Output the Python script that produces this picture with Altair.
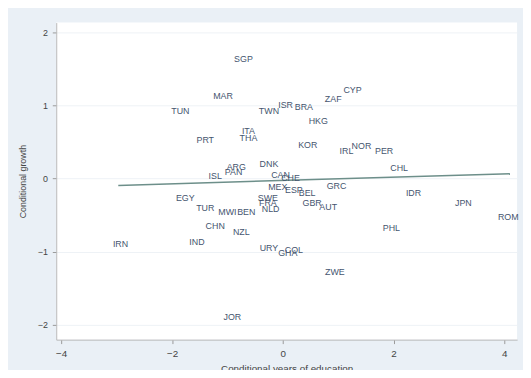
import altair as alt
import pandas as pd

codes = ["SGP", "MAR", "TUN", "TWN", "ISR", "BRA", "ZAF", "CYP", "HKG", "KOR",
         "IRL", "NOR", "PER", "CHL", "PRT", "ITA", "THA", "ARG", "PAN", "DNK",
         "ISL", "CAN", "CHE", "MEX", "ESP", "BEL", "GRC", "GBR", "AUT", "SWE",
         "FRA", "NLD", "IDR", "JPN", "ROM", "PHL", "EGY", "TUR", "MWI", "BEN",
         "CHN", "NZL", "IRN", "IND", "URY", "GHA", "COL", "ZWE", "JOR"]
edu = [-0.71, -1.08, -1.85, -0.25, 0.05, 0.38, 0.91, 1.26, 0.64, 0.45,
       1.15, 1.42, 1.83, 2.10, -1.40, -0.62, -0.62, -0.84, -0.89, -0.25,
       -1.22, -0.04, 0.14, -0.09, 0.20, 0.44, 0.97, 0.53, 0.82, -0.27,
       -0.27, -0.22, 2.36, 3.26, 4.07, 1.96, -1.76, -1.40, -1.00, -0.66,
       -1.22, -0.75, -2.93, -1.55, -0.25, 0.09, 0.20, 0.94, -0.91]
growth = [1.63, 1.13, 0.92, 0.92, 1.01, 0.97, 1.09, 1.21, 0.79, 0.46,
          0.37, 0.45, 0.37, 0.15, 0.53, 0.65, 0.55, 0.16, 0.09, 0.20,
          0.04, 0.05, 0.01, -0.12, -0.16, -0.20, -0.10, -0.33, -0.39, -0.27,
          -0.34, -0.42, -0.20, -0.34, -0.53, -0.67, -0.26, -0.40, -0.46, -0.46,
          -0.65, -0.73, -0.89, -0.87, -0.95, -1.02, -0.98, -1.28, -1.89]

fit_x = [-2.97, 4.10]
fit_y = [-0.094, 0.067]

x_ticks = [-4, -2, 0, 2, 4]
y_ticks = [-2, -1, 0, 1, 2]

pts = pd.DataFrame({"code": codes, "edu": edu, "growth": growth})
fit = pd.DataFrame({"edu": fit_x, "growth": fit_y})

xs = alt.Scale(domain=[-4.09, 4.23], nice=False, zero=False)
ys = alt.Scale(domain=[-2.2, 2.13], nice=False, zero=False)

xaxis = alt.Axis(values=x_ticks, format="d", title="Conditional years of education",
                 grid=False, labelFontSize=10, titleFontSize=10, labelPadding=5,
                 titlePadding=5, tickSize=4, labelColor="#444444", titleColor="#444444",
                 titleFontWeight="normal", domainColor="#b8b8b8", tickColor="#999999")
yaxis = alt.Axis(values=y_ticks, format="d", title="Conditional growth", grid=True,
                 gridColor="#eef2f6", labelAngle=0, labelFontSize=9,
                 titleFontSize=9, labelPadding=5, titlePadding=10, tickSize=4,
                 labelColor="#444444", titleColor="#444444",
                 titleFontWeight="normal", domainColor="#b8b8b8", tickColor="#999999")

labels = alt.Chart(pts).mark_text(fontSize=9, font="Liberation Sans",
                                  color="#44546e").encode(
    x=alt.X("edu:Q", scale=xs, axis=xaxis),
    y=alt.Y("growth:Q", scale=ys, axis=yaxis),
    text="code:N",
)

line = alt.Chart(fit).mark_line(color="#6d8f8a", strokeWidth=1.5).encode(
    x=alt.X("edu:Q", scale=xs),
    y=alt.Y("growth:Q", scale=ys),
)

chart = alt.layer(line, labels).properties(
    width=468, height=322,
    autosize=alt.AutoSizeParams(type="none"),
    padding={"left": 49, "top": 12, "right": 6, "bottom": 28},
    background="#eaf0f6",
).configure_view(fill="white", strokeWidth=0).configure_axis(
    labelFont="Liberation Sans", titleFont="Liberation Sans")

chart.save("out.html", embed_options={"renderer": "svg", "actions": False})
